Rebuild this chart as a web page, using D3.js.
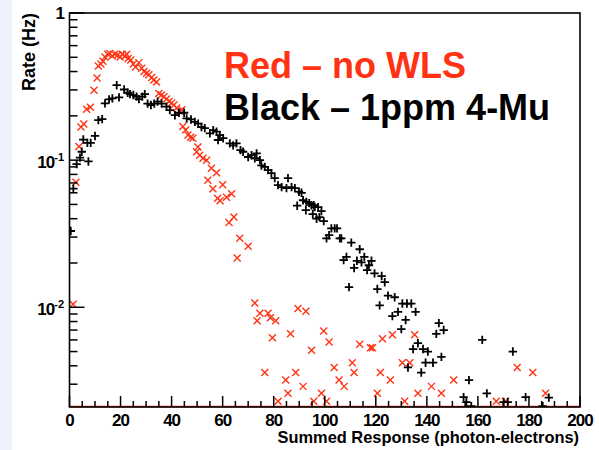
<!DOCTYPE html>
<html>
<head>
<meta charset="utf-8">
<script src="https://cdn.jsdelivr.net/npm/d3@7"></script>
<style>
  body { margin: 0; background: #fff; }
  svg { display: block; }
</style>
</head>
<body>
<div id="chart"></div>
<script>
// Rate vs summed response, two samples
const redPoints = [
  [1.4,0.0105],[2.5,0.0708],[3.7,0.124],[4.5,0.168],[5.6,0.176],[6.7,0.222],[8.2,0.229],
  [9.6,0.299],[10.8,0.361],[11.3,0.436],[12.3,0.450],[13.1,0.470],[13.9,0.502],[15.0,0.525],
  [15.8,0.530],[16.7,0.510],[17.8,0.525],[18.9,0.518],[19.8,0.502],[20.7,0.525],[21.7,0.510],
  [22.4,0.525],[23.0,0.490],[24.0,0.479],[25.0,0.450],[25.9,0.430],[27.2,0.460],[28.3,0.422],
  [29.2,0.400],[30.2,0.390],[31.1,0.380],[32.2,0.365],[33.0,0.350],[34.1,0.340],[35.0,0.284],
  [36.0,0.277],[37.0,0.270],[38.0,0.260],[39.0,0.250],[40.0,0.245],[40.9,0.237],[42.0,0.226],
  [43.0,0.215],[44.0,0.220],[44.4,0.169],[45.5,0.160],[46.4,0.148],[47.5,0.143],[48.3,0.141],
  [49.8,0.114],[50.3,0.123],[51.0,0.108],[52.3,0.103],[53.7,0.100],[54.2,0.073],[55.6,0.088],
  [56.2,0.064],[57.6,0.082],[58.0,0.055],[59.0,0.053],[60.0,0.068],[61.5,0.056],[62.5,0.0377],
  [63.5,0.059],[64.4,0.041],[65.7,0.0216],[66.7,0.0294],[70.0,0.026],
  [72.6,0.0107],[73.5,0.0081],[74.6,0.0091],[76.5,0.0036],[77.8,0.0091],[78.7,0.0085],
  [79.5,0.0062],[80.8,0.0081],[81.7,0.0023],[84.7,0.0032],[85.6,0.0026],[86.6,0.0066],
  [88.6,0.0036],[89.5,0.0098],[91.5,0.0029],[92.6,0.0094],[94.8,0.0051],[95.7,0.0023],
  [98.7,0.0026],[99.6,0.0069],[100.7,0.0023],[101.7,0.0058],[103.7,0.0039],[105.6,0.0032],
  [107.6,0.0029],[110.8,0.0042],[111.5,0.0036],[113.7,0.0056],[117.9,0.0053],[118.7,0.0053],
  [120.6,0.0026],[121.8,0.0036],[122.6,0.0061],[125.7,0.0032],[126.5,0.0065],[130.4,0.0042],
  [131.3,0.0023],[133.3,0.0042],[135.2,0.0065],[136.5,0.0026],[141.8,0.0029],[145.7,0.0026],
  [150.5,0.0032],[167.2,0.0023],[170.8,0.0023],[175.4,0.0039],[181.5,0.0036],[186.5,0.0026]
]

const blackPoints = [
  [0.5,0.033],[1.5,0.064],[2.8,0.094],[4.1,0.104],[4.8,0.114],[7.4,0.098],[5.4,0.138],
  [7.0,0.131],[8.3,0.131],[10.0,0.146],[11.3,0.187],[12.8,0.190],[13.9,0.243],[15.5,0.259],
  [16.8,0.263],[18.5,0.323],[19.4,0.267],[21.4,0.302],[22.8,0.287],[23.7,0.281],[25.0,0.277],
  [26.3,0.270],[27.2,0.260],[28.5,0.270],[29.5,0.281],[30.6,0.242],[31.9,0.237],[33.2,0.242],
  [34.5,0.250],[36.1,0.242],[38.0,0.231],[39.3,0.219],[41.3,0.202],[42.9,0.210],[44.9,0.210],
  [45.9,0.192],[47.6,0.189],[49.1,0.182],[50.4,0.177],[51.7,0.168],[53.0,0.165],[55.0,0.152],
  [56.3,0.160],[57.6,0.156],[58.2,0.137],[58.9,0.148],[60.2,0.141],[62.8,0.130],[64.1,0.126],
  [65.4,0.130],[67.0,0.117],[68.0,0.114],[70.0,0.105],[71.3,0.108],[72.6,0.103],[73.3,0.111],
  [74.6,0.100],[75.2,0.092],[76.5,0.090],[77.8,0.0855],[79.1,0.0816],[80.4,0.0755],[81.7,0.0676],
  [83.1,0.0655],[85.0,0.0645],[85.6,0.0755],[87.0,0.0655],[88.3,0.0645],[89.9,0.061],[90.9,0.060],
  [91.5,0.0534],[92.8,0.052],[93.9,0.051],[92.6,0.0457],[89.2,0.049],[94.8,0.0494],[95.7,0.0494],
  [96.1,0.048],[97.4,0.0479],[98.7,0.045],[95.3,0.043],[96.8,0.040],[97.9,0.041],[99.6,0.0385],
  [102.6,0.0344],[103.9,0.0344],[104.8,0.0344],[101.7,0.0309],[100.7,0.0294],[105.9,0.0294],
  [106.5,0.0294],[110.4,0.0275],[113.7,0.0248],[108.5,0.0220],[107.4,0.0209],[112.6,0.0207],
  [114.4,0.0202],[115.5,0.0220],[118.3,0.0207],[117.3,0.0193],[116.6,0.0179],[111.5,0.0185],
  [119.5,0.0170],[122.3,0.0163],[123.5,0.0148],[109.5,0.0137],[120.6,0.0133],[124.8,0.0120],
  [127.4,0.0117],[121.5,0.0103],[130.4,0.0106],[132.2,0.0106],[133.9,0.0106],[126.5,0.0087],
  [128.7,0.0093],[135.6,0.0093],[131.7,0.0082],[130.0,0.0071],[144.7,0.0078],[143.7,0.0066],
  [146.6,0.0070],[136.5,0.0057],[134.6,0.0052],[138.5,0.0052],[140.4,0.0050],[139.5,0.0042],
  [142.4,0.0042],[132.6,0.0039],[137.8,0.0036],[145.7,0.0046],[161.7,0.0060],[173.7,0.0050],
  [156.5,0.0032],[163.5,0.0026],[154.4,0.00245],[155.5,0.00227],[157.4,0.00213],[170.1,0.00227],
  [171.7,0.00227],[178.7,0.00245],[185.4,0.00213],[187.8,0.00243]
]

const xDomain = [0, 200]
const yDomain = [0.0021, 1]
const xTickValues = [0, 20, 40, 60, 80, 100, 120, 140, 160, 180, 200]
const yMajorTicks = [1, 0.1, 0.01]
const yTickLabels = [["1", ""], ["10", "-1"], ["10", "-2"]]
const legendLines = ["Red \u2013 no WLS", "Black \u2013 1ppm 4-Mu"]

const WIDTH = 599
const HEIGHT = 450
const PLOT = {LEFT: 69.5, RIGHT: 580, TOP: 13, BOTTOM: 407}
const RED = "#ff3314"
const FONT = "'Liberation Sans', Arial, Helvetica, sans-serif"

let svg = d3.select("#chart").append("svg")
    .attr("width", WIDTH)
    .attr("height", HEIGHT)

// pale strip on the left edge of the slide
svg.append("rect").attr("x", 0).attr("y", 0).attr("width", 12).attr("height", HEIGHT).attr("fill", "#eef2fb")

let xScale = d3.scaleLinear().domain(xDomain).range([PLOT.LEFT, PLOT.RIGHT])
let yScale = d3.scaleLog().domain(yDomain).range([PLOT.BOTTOM, PLOT.TOP])

// clip for the markers
svg.append("clipPath").attr("id", "plotclip")
  .append("rect")
    .attr("x", PLOT.LEFT).attr("y", PLOT.TOP)
    .attr("width", PLOT.RIGHT - PLOT.LEFT).attr("height", PLOT.BOTTOM - PLOT.TOP)

// red zero line along the bottom
svg.append("line")
    .attr("x1", xScale(xDomain[0])).attr("x2", xScale(xDomain[1]))
    .attr("y1", PLOT.BOTTOM - 0.5).attr("y2", PLOT.BOTTOM - 0.5)
    .attr("stroke", RED).attr("stroke-width", 1.5)

let marks = svg.append("g").attr("clip-path", "url(#plotclip)")

// red "x" markers
const xs = 3.5
marks.selectAll("path.red")
  .data(redPoints)
  .enter()
  .append("path")
    .attr("class", "red")
    .attr("d", d => {
      let cx = xScale(d[0]), cy = yScale(d[1])
      return `M${cx-xs},${cy-xs}L${cx+xs},${cy+xs}M${cx-xs},${cy+xs}L${cx+xs},${cy-xs}`
    })
    .attr("stroke", RED).attr("stroke-width", 1.4).attr("fill", "none")

// black "+" markers
const ps = 4.2
marks.selectAll("path.black")
  .data(blackPoints)
  .enter()
  .append("path")
    .attr("class", "black")
    .attr("d", d => {
      let cx = xScale(d[0]), cy = yScale(d[1])
      return `M${cx-ps},${cy}L${cx+ps},${cy}M${cx},${cy-ps}L${cx},${cy+ps}`
    })
    .attr("stroke", "#000").attr("stroke-width", 1.8).attr("fill", "none")

// frame
svg.append("rect")
    .attr("x", PLOT.LEFT).attr("y", PLOT.TOP)
    .attr("width", PLOT.RIGHT - PLOT.LEFT).attr("height", PLOT.BOTTOM - PLOT.TOP)
    .attr("fill", "none").attr("stroke", "#000").attr("stroke-width", 1.6)

// x axis ticks (inside, pointing up) - minor every 5
let xMinor = d3.range(xDomain[0], xDomain[1] + 0.1, 5)
svg.append("g")
  .selectAll("line")
  .data(xMinor)
  .enter()
  .append("line")
    .attr("x1", d => xScale(d)).attr("x2", d => xScale(d))
    .attr("y1", PLOT.BOTTOM).attr("y2", d => PLOT.BOTTOM - (d % 20 === 0 ? 11 : 6))
    .attr("stroke", "#000").attr("stroke-width", 1.5)

svg.append("g")
  .selectAll("text")
  .data(xTickValues)
  .enter()
  .append("text")
    .attr("x", d => xScale(d))
    .attr("y", 426)
    .attr("text-anchor", "middle")
    .attr("font-family", FONT).attr("font-weight", "bold").attr("font-size", 17)
    .attr("letter-spacing", -1)
    .text(d => d)

// y axis ticks (inside, pointing right)
let yMinor = []
for (let e = -3; e < 0; e++) {
  for (let m = 2; m <= 9; m++) {
    let v = m * Math.pow(10, e)
    if (v >= yDomain[0] && v <= yDomain[1]) yMinor.push(v)
  }
}
svg.append("g")
  .selectAll("line")
  .data(yMinor)
  .enter()
  .append("line")
    .attr("x1", PLOT.LEFT).attr("x2", PLOT.LEFT + 8)
    .attr("y1", d => yScale(d)).attr("y2", d => yScale(d))
    .attr("stroke", "#000").attr("stroke-width", 1.5)

svg.append("g")
  .selectAll("line")
  .data(yMajorTicks)
  .enter()
  .append("line")
    .attr("x1", PLOT.LEFT).attr("x2", PLOT.LEFT + 15)
    .attr("y1", d => yScale(d)).attr("y2", d => yScale(d))
    .attr("stroke", "#000").attr("stroke-width", 1.5)

let yLab = svg.append("g")
  .selectAll("text")
  .data(yMajorTicks)
  .enter()
  .append("text")
    .attr("x", 64)
    .attr("y", (d, i) => yScale(d) + (i === 0 ? 6 : 8))
    .attr("text-anchor", "end")
    .attr("font-family", FONT).attr("font-weight", "bold").attr("font-size", 17)
    .attr("letter-spacing", -1)
yLab.append("tspan").text((d, i) => yTickLabels[i][0])
yLab.append("tspan")
    .attr("dy", -7).attr("font-size", 11).attr("letter-spacing", 0)
    .text((d, i) => yTickLabels[i][1])

// axis titles
svg.append("text")
    .attr("transform", "translate(35,13) rotate(-90)")
    .attr("text-anchor", "end")
    .attr("font-family", FONT).attr("font-weight", "bold").attr("font-size", 18)
    .text("Rate (Hz)")

svg.append("text")
    .attr("x", 579).attr("y", 443)
    .attr("text-anchor", "end")
    .attr("font-family", FONT).attr("font-weight", "bold").attr("font-size", 16.4)
    .text("Summed Response (photon-electrons)")

// legend text
svg.append("g")
  .selectAll("text")
  .data(legendLines)
  .enter()
  .append("text")
    .attr("x", 224)
    .attr("y", (d, i) => 78 + i * 42)
    .attr("fill", (d, i) => i === 0 ? RED : "#000")
    .attr("font-family", FONT).attr("font-weight", "bold").attr("font-size", 36)
    .text(d => d)
</script>
</body>
</html>
